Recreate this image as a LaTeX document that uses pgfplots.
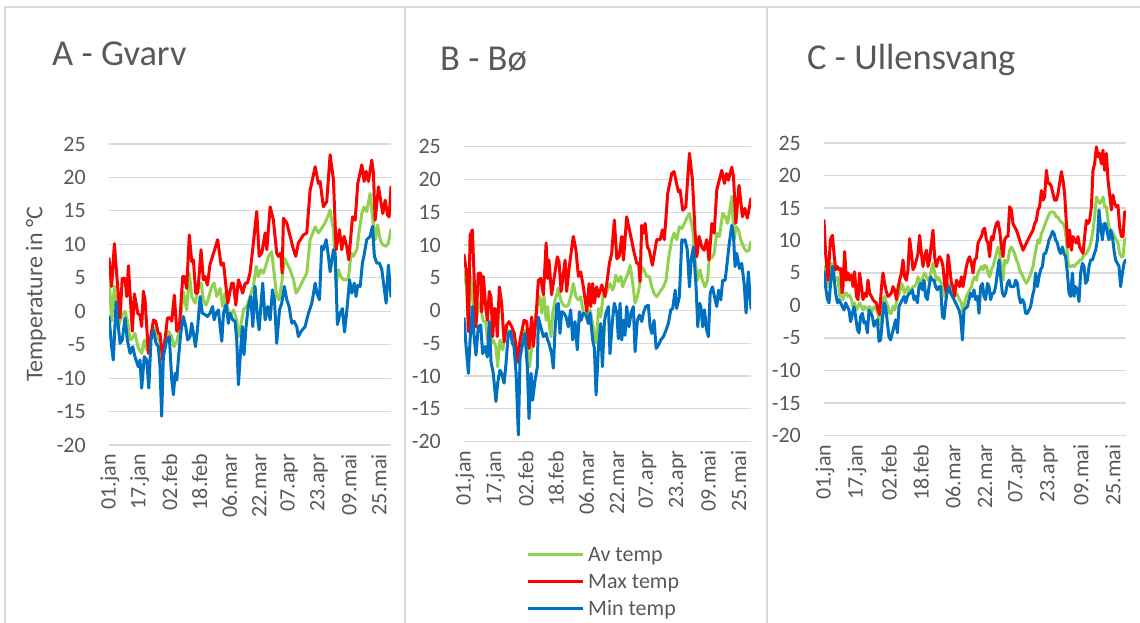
\documentclass[border=0pt]{standalone}
\usepackage{pgfplots}
\pgfplotsset{compat=1.18}
\usepackage{fontspec}
\setmainfont{Carlito}
\definecolor{avgc}{HTML}{92D050}
\definecolor{maxc}{HTML}{FF0000}
\definecolor{minc}{HTML}{0070C0}
\definecolor{gridc}{HTML}{D9D9D9}
\definecolor{txt}{HTML}{595959}
\pgfplotsset{
  panel/.style={
    scale only axis,
    xmin=0, xmax=151, ymin=-20, ymax=25,
    axis line style={draw=none},
    major tick length=0pt,
    tick style={draw=none},
    ytick={-20,-15,-10,-5,0,5,10,15,20,25},
    yticklabels={-20,-15,-10,-5,0,5,10,15,20,25},
    ymajorgrids,
    grid style={color=gridc, line width=1.2pt},
    xtick={0.5,16.5,32.5,48.5,64.5,80.5,96.5,112.5,128.5,144.5},
    xticklabels={01.jan,17.jan,02.feb,18.feb,06.mar,22.mar,07.apr,23.apr,09.mai,25.mai},
    xticklabel style={rotate=90, anchor=east, inner sep=0pt, xshift=-9pt, font=\fontsize{22}{22}\selectfont, text=txt},
    yticklabel style={anchor=east, inner sep=0pt, xshift=-23pt, font=\fontsize{22}{22}\selectfont, text=txt},
    every axis plot/.append style={line width=3pt, line join=round, line cap=round, no markers},
  }
}
\begin{document}
\begin{tikzpicture}
\path[use as bounding box] (0pt,0pt) rectangle (1140pt,623pt);
% panel frames
\draw[gridc, line width=1.5pt] (5pt,0pt) -- (5pt,616pt) -- (1140pt,616pt);
\draw[gridc, line width=1.5pt] (405pt,0pt) -- (405pt,616pt);
\draw[gridc, line width=1.5pt] (767pt,0pt) -- (767pt,616pt);
% titles
\node[anchor=base west, inner sep=0pt, text=txt, font=\fontsize{36.5}{40}\selectfont] at (52pt,557pt) {A - Gvarv};
\node[anchor=base west, inner sep=0pt, text=txt, font=\fontsize{36.5}{40}\selectfont] at (440pt,552pt) {B - Bø};
\node[anchor=base west, inner sep=0pt, text=txt, font=\fontsize{36.5}{40}\selectfont] at (807pt,553pt) {C - Ullensvang};

% ---------------- A ----------------
\begin{axis}[panel, at={(109pt,178pt)}, anchor=south west, width=282pt, height=301pt,
  ylabel={Temperature in °C},
  ylabel style={at={(axis description cs:-0.259,0.5)}, anchor=center, font=\fontsize{24}{24}\selectfont, text=txt}]
\addplot[avgc] coordinates {(0,5.4)(1.4,-1.5)(2.9,3.7)(5,-2.3)(6.8,-0.8)(8.6,0)(9.8,-1.3)(11.3,-4.3)(12.7,-4.0)(13.9,-3.3)(15.7,-5.5)(17.5,-6.3)(18.9,-4.3)(20.2,-5.8)(21.1,-5.5)(22.9,-2.8)(24.3,-2.5)(25.5,-3.3)(27.3,-4.8)(28.8,-6.8)(30,-4.3)(31.8,-3.0)(33.6,-3.8)(34.8,-5.3)(36.3,-4.5)(37.7,-2.8)(39.8,2.9)(41.6,0.2)(43,5.7)(44.3,2.2)(46.1,1.2)(47.9,3.7)(49.3,4.2)(50.5,1.7)(52,0.9)(53.2,1.9)(55,3.7)(56.3,4.2)(57.7,2.2)(59.5,3.4)(60.9,0.7)(62.1,2.7)(63.4,0.7)(64.8,-0.8)(66.6,0.2)(68.4,-1.3)(69.3,-3.8)(70.5,-2.3)(72,0.2)(73.8,0.7)(75.5,2.2)(77.3,3.7)(78.8,6.7)(80,5.2)(81.3,6.2)(82.7,5.7)(83.9,6.7)(85.4,8.2)(87.1,8.9)(88.6,5.2)(89.8,2.2)(91.1,1.7)(92.5,4.2)(93.9,7.9)(95.2,7.2)(97,6.2)(98.8,4.7)(100.2,2.7)(101.4,3.2)(104.1,4.7)(105.9,5.7)(107.7,10.7)(109.1,11.7)(110.4,12.6)(112.1,11.7)(113.9,12.4)(115.7,13.2)(117,14.1)(118.4,15.1)(120.2,12.2)(121.6,3.7)(122.9,6.2)(124.1,5.2)(125.5,4.7)(127,4.7)(128.2,4.9)(129.6,8.7)(130.9,8.2)(132.7,9.2)(134.1,12.2)(135.4,14.6)(136.6,15.6)(138,14.9)(139.8,17.6)(141.3,13.6)(142.5,10.7)(143.8,12.9)(145.2,10.7)(146.6,9.9)(148.4,9.7)(149.6,10.2)(151,12.2)};
\addplot[maxc] coordinates {(0,7.9)(1.4,3.7)(2.9,10.1)(5.9,-1.0)(7.1,4.9)(8.6,4.9)(9.5,2.2)(10.4,6.8)(12.5,-3.0)(13.6,2.6)(14.5,1.2)(15.4,-0.3)(16.6,-0.6)(17.5,-2.3)(18.4,3.0)(19.3,1.7)(21.1,-6.3)(23.8,-1.3)(25,-1.5)(26.4,-3.3)(27.3,-3.3)(28.8,-7.3)(30,-4.3)(31.3,-1.0)(32.7,-1.0)(33.6,-1.5)(35,2.4)(36.3,-3.0)(37.7,-2.3)(39.5,5.2)(40.4,5.2)(41.6,3.4)(43,11.4)(44.3,7.4)(45.2,7.7)(46.4,2.7)(47.5,2.7)(49.3,9.2)(50.5,4.7)(51.4,5.2)(52.7,3.9)(54.1,7.0)(56,8.7)(58.2,10.7)(60,6.9)(61.3,7.2)(63.6,1.2)(65.7,4.2)(66.6,4.2)(67.9,0.9)(69.3,4.7)(70.5,3.7)(71.6,2.7)(72.9,4.2)(74.1,4.2)(75.5,5.7)(77,9.4)(79.1,14.9)(80.4,8.2)(81.8,8.7)(83.6,11.7)(84.5,9.2)(86.3,15.6)(88,13.7)(89.8,8.7)(90.7,8.2)(92,8.7)(92.7,5.7)(93.4,13.9)(95.2,13.2)(96.1,12.2)(98.8,9.2)(100,8.2)(101.4,10.2)(104.1,11.4)(105.9,11.7)(107.7,18.1)(110.4,21.6)(112.1,19.1)(113,19.4)(114.8,15.6)(116.6,16.4)(118.4,23.4)(120.2,19.6)(121.6,9.2)(123.4,12.2)(124.6,9.2)(125.9,11.2)(127.3,9.7)(128.4,7.7)(130.4,14.1)(131.8,13.6)(133.2,19.1)(135.4,21.9)(136.6,19.4)(137.7,20.9)(138.9,19.4)(140.7,22.6)(141.6,20.6)(142.5,13.6)(144.3,18.6)(146.6,14.6)(147.9,16.6)(149.1,14.4)(150,14.1)(151,18.6)};
\addplot[minc] coordinates {(0,-0.8)(1.4,-5.3)(2.3,-7.3)(3.8,1.4)(5,-2.3)(5.9,-4.8)(7.1,-4.3)(8.6,-1.0)(9.8,-4.3)(11.3,-6.3)(12.7,-5.3)(13.9,-6.8)(15.7,-8.3)(16.6,-7.3)(17.5,-11.5)(18.9,-6.8)(20.2,-7.3)(21.3,-11.5)(22.5,-4.3)(23.8,-2.8)(25.2,-4.8)(26.4,-5.3)(27.3,-8.3)(28.2,-15.7)(29.1,-6.8)(30.9,-4.3)(32.3,-3.8)(33.6,-10.3)(34.5,-12.5)(35.4,-9.3)(36.3,-10.3)(37.1,-7.3)(38.4,-3.3)(39.8,-0.8)(41.1,-2.3)(42.1,-4.3)(43.4,-3.8)(44.3,-1.8)(45.2,-3.3)(46.3,-5.3)(47.5,-2.3)(48.8,2.2)(50,-0.3)(51.4,-0.5)(52.7,-0.8)(54.1,-0.3)(55.5,0.7)(56.3,-1.3)(57.3,-0.3)(58.6,0.2)(59.5,-2.3)(60.4,-4.5)(61.3,-0.3)(62.7,1.0)(63.9,-1.8)(64.8,-0.3)(66.3,-1.3)(67.5,-1.5)(68.4,-4.3)(69.3,-11.0)(70.5,-5.8)(71.4,-2.3)(72.3,-6.5)(73.4,-2.3)(74.6,0.7)(75.9,2.2)(77,-2.3)(78.2,3.7)(79.5,-0.8)(80.4,-2.8)(81.3,0.7)(82.3,4.2)(83.6,-1.3)(85,0.7)(86.3,-1.3)(87.5,3.2)(88.6,1.7)(89.8,-4.8)(91.3,0.2)(92.5,1.2)(93.9,3.7)(95.2,1.7)(96.4,0.7)(97.9,-1.8)(99.1,-1.5)(100.5,-2.3)(101.4,-3.8)(102.9,-3.0)(105,-2.3)(106.8,-0.3)(108.6,1.2)(110.4,4.2)(111.3,2.7)(112.7,1.7)(113.9,9.7)(114.8,9.2)(116.3,10.7)(117.5,8.2)(118.4,5.9)(120.2,9.2)(121.1,8.7)(122.3,-2.0)(123.8,-0.3)(125,0.4)(126.1,-3.1)(127.3,-0.1)(128.8,4.7)(130,2.7)(131.3,4.2)(132.3,2.2)(133.2,3.9)(134.5,3.7)(135.7,7.2)(136.6,8.4)(138,10.7)(139.8,11.2)(141.1,12.7)(142.1,8.2)(143.4,7.2)(144.8,7.2)(146.1,6.2)(147,4.2)(148.4,1.2)(149.6,6.9)(151,2.2)};
\end{axis}

% ---------------- B ----------------
\begin{axis}[panel, at={(464pt,181.5pt)}, anchor=south west, width=287pt, height=294.8pt]
\addplot[avgc] coordinates {(0,5.9)(1.4,3.6)(2.3,-3.0)(3.5,5.2)(4.6,2.1)(5.8,-2.5)(6.7,-1.0)(8.1,1.1)(9.3,-0.4)(10.2,-1.7)(11.4,-1.7)(12.3,-4.5)(13.3,-3.5)(14.6,-5.0)(15.4,-4.5)(16.8,-5.5)(17.7,-8.6)(18.9,-4.5)(20.4,-6.0)(21.6,-3.5)(22.8,-3.0)(24.2,-3.2)(25.4,-4.0)(26.5,-4.5)(27.7,-6.8)(28.6,-8.1)(29.8,-5.0)(30.9,-3.5)(32.1,-3.0)(33.3,-5.5)(34.4,-8.6)(35.6,-5.8)(36.8,-2.5)(37.9,-0.4)(39.1,1.6)(40,2.1)(40.9,-0.4)(42.1,2.1)(43.2,-1.5)(44,0.6)(44.9,-2.5)(45.8,-4.0)(46.7,-0.4)(47.9,1.6)(48.8,2.4)(49.6,3.4)(50.9,1.6)(52.3,0.8)(53.7,0.6)(54.9,0.8)(56.1,2.1)(57.5,4.1)(58.9,2.1)(60.2,1.6)(61.4,2.1)(62.8,-0.4)(64.6,-1.0)(66.3,0.1)(67.7,-2.0)(68.9,-4.0)(69.8,-5.0)(70.7,0.3)(71.9,-1.0)(73.3,2.6)(74.7,2.6)(76,3.6)(76.8,4.1)(78.1,3.1)(78.9,3.6)(79.8,5.4)(81.2,4.4)(82.5,5.2)(83.5,3.6)(84.7,4.6)(86,5.4)(87.4,6.9)(88.8,4.1)(90,1.1)(91.2,2.1)(92.3,3.6)(93.5,6.7)(94.7,6.2)(96.1,5.2)(97.5,5.2)(98.8,3.6)(100,2.6)(101.4,2.1)(103.2,2.9)(104.9,3.6)(106.3,4.6)(107.5,7.7)(109.3,10.8)(110.5,11.8)(111.9,10.8)(113.3,12.8)(114.6,12.5)(116,13.3)(117.2,14.1)(118.6,14.8)(120.4,12.3)(121.6,7.7)(122.8,4.6)(124.2,6.2)(125.4,4.6)(126.8,3.6)(128.1,4.6)(129.1,8.2)(130.4,8.0)(131.6,8.7)(133,11.8)(134.4,11.3)(136.1,14.8)(137.5,14.3)(138.6,13.3)(139.6,14.8)(140.9,17.4)(142.1,10.8)(143.2,12.8)(144.4,12.3)(145.6,10.8)(147.4,9.5)(148.8,9.0)(150,9.2)(151,10.5)};
\addplot[maxc] coordinates {(0,8.5)(1.4,5.7)(2.3,-3.2)(3.2,11.5)(4.4,12.3)(6.3,-2.5)(7.5,5.7)(8.8,5.7)(9.3,-0.2)(10.2,5.2)(11.4,0.6)(12.3,-1.5)(13.3,2.9)(14.2,2.1)(15.1,-4.0)(16,0.3)(16.8,0.1)(17.5,-4.0)(18.6,3.6)(19.8,1.1)(21.1,-4.8)(22.5,-2.2)(23.7,-1.7)(25.1,-2.5)(26.5,-3.5)(28.2,-7.8)(29.5,-4.5)(31.6,-1.5)(33,-1.7)(34.2,-5.8)(35.6,-1.0)(36.5,-5.5)(37.9,-1.0)(39.1,4.6)(40.4,4.9)(41.8,2.4)(43.2,10.3)(44,4.9)(44.7,7.7)(46.1,2.4)(49.1,8.2)(50,7.4)(51.1,2.9)(53.2,7.7)(54,2.9)(55.4,6.7)(57.5,11.3)(58.9,9.2)(60.2,5.2)(61.4,5.9)(62.8,3.6)(64.6,-0.2)(65.8,4.1)(66.7,0.6)(67.7,4.1)(68.6,1.1)(69.8,3.6)(70.7,2.1)(72.5,3.9)(74.2,2.1)(76.5,7.2)(77.7,8.7)(79.1,13.8)(80.4,7.9)(81.6,8.2)(83,11.3)(83.9,7.7)(85.6,14.3)(87.4,11.8)(89.6,8.7)(90.9,7.2)(91.9,7.2)(92.6,4.4)(93.5,13.0)(94.4,11.8)(95.3,13.3)(96.5,9.7)(97.5,9.2)(99.1,6.9)(101.4,10.8)(103.2,10.8)(104.4,12.3)(105.4,10.8)(107.2,17.9)(109.3,20.9)(110.5,21.2)(112.8,18.1)(113.7,18.4)(115.1,15.3)(116.7,15.8)(118.6,24.0)(120.2,19.9)(121.6,11.8)(122.5,8.2)(123.7,11.3)(125.1,9.7)(126.3,9.2)(127.7,10.8)(128.9,7.7)(130.4,13.3)(131.6,11.8)(133,18.4)(135.6,21.4)(137,19.4)(138.2,20.9)(139.1,19.9)(140.9,21.9)(141.8,20.4)(143,13.3)(144.7,19.1)(146.5,14.3)(147.7,15.6)(149.1,14.1)(151,17.1)};
\addplot[minc] coordinates {(0,-1.2)(1.1,-5.5)(2.3,-9.6)(3.2,-4.5)(4.4,0.6)(5.3,-4.0)(6.3,-6.8)(7.5,-2.5)(8.8,-2.2)(9.8,-6.6)(11.1,-5.5)(12.3,-7.1)(13.3,-1.7)(14.2,-7.8)(15.4,-9.6)(16.8,-13.9)(17.7,-11.1)(18.9,-9.1)(19.8,-9.6)(21.1,-11.1)(22.1,-8.1)(23.3,-3.5)(24.6,-3.2)(25.4,-5.0)(26.3,-5.5)(27.4,-9.6)(28.6,-19.0)(29.5,-7.1)(30.9,-5.0)(32.1,-3.5)(33.3,-8.6)(34.2,-16.5)(35.3,-9.6)(36.1,-13.7)(37.4,-10.6)(38.6,-8.6)(39.1,-1.0)(40.4,-2.5)(41.8,-4.0)(43.2,-3.5)(44,-4.5)(44.7,-5.0)(46.1,-6.6)(47,-8.8)(47.9,-3.0)(48.8,0.8)(49.6,1.1)(50.5,-3.5)(51.4,-0.2)(52.6,-0.4)(53.7,-1.0)(54.9,-2.5)(56.1,0.1)(57.2,-4.5)(58.4,-1.7)(59.6,-6.0)(60.7,-0.2)(61.6,-1.5)(62.8,-0.4)(64.2,-0.7)(65.4,-2.0)(66.3,-0.4)(67.7,-4.5)(68.6,-5.8)(69.5,-12.9)(70.7,-5.8)(71.9,-2.0)(72.8,-8.6)(73.9,-1.7)(74.7,-0.4)(76,0.6)(76.8,-6.6)(78.1,-1.5)(79.1,1.1)(80.4,-0.4)(81.2,-4.3)(82.1,1.1)(83,-4.5)(83.9,-1.5)(84.7,-3.8)(85.6,0.6)(86.8,-2.5)(87.9,-0.4)(89.1,0.6)(90,-6.3)(91.2,-1.5)(92.3,-0.7)(93.5,-1.7)(94.4,-0.4)(95.6,0.6)(97,0.8)(97.9,-2.5)(98.8,-3.5)(100,-1.5)(101.1,-5.8)(102.3,-5.3)(103.5,-4.5)(104.9,-4.0)(106.3,-3.0)(107.5,-2.0)(108.8,0.1)(109.8,0.3)(111.1,3.1)(111.9,0.3)(113.3,2.1)(114.6,10.8)(115.4,10.5)(116.3,10.8)(117.5,9.2)(118.6,3.6)(119.5,7.7)(120.7,9.7)(122.1,3.6)(123,-2.5)(123.9,1.1)(124.6,0.6)(125.6,-2.5)(126.5,0.1)(127.7,-3.0)(128.6,-4.0)(129.5,2.6)(130.7,3.6)(131.8,2.1)(133,0.6)(133.9,3.1)(135.1,1.6)(136.1,4.6)(137.4,4.6)(138.6,7.7)(139.6,10.3)(140.9,13.0)(141.8,11.3)(142.6,6.7)(143.5,8.7)(144.9,6.4)(146.1,7.2)(147.4,4.1)(148.4,-0.4)(149.6,5.9)(151,0.3)};
\end{axis}

% ---------------- C ----------------
\begin{axis}[panel, at={(824pt,187.5pt)}, anchor=south west, width=302pt, height=292.5pt]
\addplot[avgc] coordinates {(0,6.0)(0.8,3.9)(2,2.9)(2.8,5.0)(3.7,6.5)(4.5,6.0)(5.3,3.9)(6.2,3.9)(7,4.4)(7.8,1.4)(8.7,1.4)(9.5,0.9)(10.3,1.9)(11.2,1.9)(12,1.4)(12.8,1.6)(13.7,0.9)(14.5,-0.2)(15.3,0.4)(16.2,-0.7)(17,-0.2)(17.8,0.4)(18.7,-0.2)(19.5,-0.7)(20.3,-0.2)(21.2,-0.4)(22,-0.7)(22.8,-0.2)(23.7,-1.2)(24.5,-0.4)(25.3,-0.2)(26.2,-0.7)(27,-1.2)(27.8,-3.0)(28.7,-1.2)(29.5,0.9)(30.3,1.4)(31.2,0.4)(32,-0.2)(32.8,-1.2)(33.7,-1.2)(34.5,-0.2)(35.3,-0.7)(36.2,0.4)(37,1.4)(37.8,1.9)(38.7,3.4)(39.5,2.9)(40.3,1.9)(41.2,2.4)(42,2.9)(42.8,1.9)(43.7,2.4)(44.5,2.9)(45.3,2.9)(46.2,3.4)(47,4.4)(47.8,3.4)(48.7,3.9)(49.5,4.4)(50.3,5.0)(51.2,4.4)(52,3.9)(52.8,4.2)(53.7,5.5)(54.5,6.5)(55.3,5.0)(56.2,3.9)(57,4.4)(57.8,3.9)(58.7,3.4)(59.5,2.9)(60.3,1.4)(61.2,1.6)(62,3.4)(62.8,2.9)(63.7,2.4)(64.5,1.9)(66.2,1.9)(67,1.4)(67.8,0.9)(68.7,0.4)(69.5,-1.2)(70.3,0.4)(71.2,1.4)(72,1.9)(72.8,2.4)(73.7,2.9)(74.5,3.9)(75.3,4.4)(76.2,3.9)(77,5.0)(77.8,5.5)(78.7,6.0)(79.5,5.5)(80.3,6.2)(81.2,6.0)(82,5.0)(82.8,4.4)(83.7,5.5)(84.5,6.0)(85.3,7.0)(86.2,8.0)(87,9.0)(87.8,8.0)(88.7,5.5)(89.5,3.9)(90.3,7.0)(91.2,6.5)(92,7.0)(92.8,8.5)(93.7,9.0)(94.5,8.5)(95.3,8.0)(96.2,7.0)(97,6.5)(97.8,5.5)(99.5,4.4)(100.3,3.9)(101.2,3.4)(102.8,4.4)(104.5,6.0)(105.3,7.5)(106.2,9.0)(107,10.1)(107.8,9.6)(108.7,11.1)(109.5,11.6)(111.2,13.1)(112.8,14.2)(113.7,14.4)(114.5,14.4)(115.3,14.2)(116.2,13.6)(117,13.6)(117.8,13.1)(119.5,12.6)(120.3,12.1)(121.2,10.1)(122,6.5)(122.8,6.0)(123.7,6.0)(124.5,6.2)(125.3,6.0)(126.2,6.5)(127,6.5)(127.8,7.0)(128.7,7.0)(129.5,7.5)(130.3,7.8)(131.2,8.0)(132,8.5)(132.8,9.0)(133.7,10.1)(134.5,11.6)(135.3,13.6)(136.2,16.7)(137,16.2)(137.8,15.7)(138.7,16.0)(139.5,16.7)(140.3,15.2)(141.2,15.2)(142,13.1)(142.8,11.6)(143.7,11.6)(144.5,11.1)(145.3,10.6)(146.2,10.1)(147,9.6)(147.8,8.0)(148.7,7.5)(149.5,7.5)(150.3,10.1)(150.8,10.3)};
\addplot[maxc] coordinates {(0,13.1)(0.8,8.0)(2,3.9)(3.2,10.1)(4.2,10.8)(5,8.0)(5.8,5.5)(6.7,6.0)(7.5,5.5)(8.3,5.7)(9,1.9)(9.5,2.9)(10.3,8.3)(11.2,3.9)(12,5.0)(12.8,3.9)(13.7,4.7)(14.5,2.9)(15.3,5.2)(16.2,1.4)(17,0.9)(17.8,5.0)(18.7,2.9)(19.5,0.9)(20.3,1.9)(21.2,1.4)(22,3.9)(22.8,1.9)(23.7,1.4)(24.5,0.9)(25.3,0.6)(26.2,0.4)(27,-0.7)(27.8,-1.4)(28.7,2.7)(29.5,5.0)(30.3,3.4)(31.2,2.1)(32,1.4)(32.8,1.6)(33.7,1.9)(34.5,2.9)(35.3,2.4)(36.2,0.9)(37,2.7)(37.8,3.9)(38.7,5.0)(39.5,7.0)(40.3,4.4)(41.2,3.9)(42,5.5)(42.8,10.3)(43.7,8.0)(44.5,5.5)(45.3,6.0)(46.2,7.0)(47,8.0)(47.8,10.8)(48.7,8.0)(49.5,6.0)(50.3,7.5)(51.2,8.5)(52,6.0)(52.8,7.0)(53.7,9.6)(54.5,11.6)(55.3,7.5)(56.2,6.0)(57,7.0)(57.8,7.5)(58.7,7.0)(59.5,6.0)(60.3,3.4)(61.2,1.9)(62,7.8)(62.8,6.0)(63.7,3.4)(64.5,2.9)(65.3,1.4)(66.2,3.9)(67,3.4)(67.8,2.9)(68.7,4.4)(69.5,2.9)(70.3,4.4)(71.2,6.0)(72,7.0)(72.8,7.5)(73.7,6.5)(74.5,5.0)(75.3,7.0)(76.2,7.3)(77,9.6)(77.8,10.1)(78.7,10.6)(79.5,11.6)(80.3,11.9)(81.2,10.1)(82,9.6)(82.8,7.5)(83.7,10.6)(84.5,10.1)(85.3,11.6)(86.2,12.6)(87,12.9)(87.8,11.6)(88.7,9.0)(89.5,7.5)(90.3,10.1)(91.2,10.6)(92,10.6)(92.8,15.2)(93.7,14.7)(94.5,12.6)(95.3,12.1)(96.2,11.6)(97.8,10.1)(99.5,8.5)(101.2,9.6)(102.8,10.6)(104.5,11.6)(105.3,12.6)(106.2,13.1)(107,14.7)(107.8,15.2)(108.7,17.7)(109.5,16.2)(110.3,16.7)(111.2,20.8)(112,18.8)(112.8,18.8)(113.7,18.3)(114.5,17.2)(115.3,16.2)(116.2,16.2)(117,17.2)(117.8,18.8)(118.7,20.6)(119.5,19.3)(120.3,17.2)(121.2,12.6)(122,9.0)(122.8,11.6)(123.7,8.5)(124.5,10.6)(125.3,10.1)(126.2,9.6)(127,10.6)(127.8,9.0)(128.7,8.5)(129.5,8.0)(130.3,10.6)(131.2,13.1)(132,12.6)(132.8,13.1)(133.7,15.2)(134.5,20.8)(135.3,21.8)(136.2,24.4)(137,22.9)(137.8,23.4)(138.7,21.8)(139.5,23.9)(140.3,20.8)(141.2,23.4)(142,19.3)(142.8,17.2)(143.7,14.7)(144.5,17.0)(145.3,15.7)(146.2,15.2)(147,15.4)(147.8,12.1)(148.7,10.6)(149.5,10.6)(150.3,14.4)(150.8,14.4)};
\addplot[minc] coordinates {(0,5.2)(0.8,2.9)(1.7,0.9)(2.5,0.4)(3.3,3.4)(4.2,6.0)(5,4.4)(5.8,1.9)(6.7,0.4)(7.5,0.9)(8.3,0.4)(9.2,-0.2)(10,-0.7)(10.8,0.4)(11.7,-0.2)(12.5,-0.7)(13.3,-2.5)(14.2,-1.2)(15,-0.2)(15.8,-1.7)(16.7,-3.7)(17.5,-4.2)(18.3,-1.7)(19.2,-1.2)(20,-2.7)(20.8,-2.5)(21.7,-4.2)(22.5,-0.7)(23.3,-1.2)(24.2,-1.7)(25,-3.2)(25.8,-2.5)(26.7,-2.2)(27.5,-5.5)(28.3,-5.3)(29.2,-2.2)(30,0.4)(30.8,-0.2)(31.7,-2.7)(32.5,-4.8)(33.3,-5.3)(34.2,-4.2)(35,-3.2)(35.8,-2.2)(36.7,-4.2)(37.5,-0.2)(38.3,0.4)(39.2,0.9)(40,1.4)(40.8,0.4)(41.7,1.4)(42.5,1.9)(43.3,1.9)(44.2,2.4)(45,0.9)(45.8,1.4)(46.7,0.4)(47.5,2.9)(48.3,3.4)(49.2,2.4)(50,3.9)(50.8,1.4)(51.7,0.9)(52.5,2.9)(53.3,4.4)(54.2,3.9)(55,3.9)(55.8,2.9)(56.7,2.4)(57.5,2.9)(58.3,2.9)(59.2,-1.7)(60,-2.0)(60.8,0.4)(61.7,2.4)(62.5,2.9)(63.3,1.9)(64.2,1.4)(65,0.9)(65.8,0.4)(66.7,-0.2)(67.5,-0.7)(68.3,-1.7)(69.2,-5.3)(70,-0.7)(70.8,-0.4)(71.7,-0.2)(72.5,0.9)(73.3,1.9)(74.2,1.4)(75,2.4)(75.8,0.9)(76.7,1.4)(77.5,-1.2)(78.3,2.9)(79.2,3.4)(80,1.4)(80.8,0.9)(81.7,3.4)(82.5,2.9)(83.3,0.9)(84.2,1.9)(85,1.9)(85.8,2.9)(86.7,5.0)(87.5,7.0)(88.3,4.4)(89.2,1.9)(90,1.4)(90.8,1.9)(91.7,3.4)(92.5,3.9)(93.3,2.9)(94.2,2.9)(95,2.9)(95.8,3.9)(96.7,3.4)(97.5,1.4)(98.3,0.4)(99.2,0.9)(100,0.4)(100.8,-1.2)(101.7,-1.2)(102.5,-0.7)(103.3,-0.2)(104.2,1.4)(105,2.4)(105.8,5.0)(106.7,2.9)(107.5,4.4)(108.3,5.5)(109.2,6.0)(110,8.0)(110.8,8.0)(111.7,9.0)(112.5,10.1)(113.3,10.6)(114.2,11.4)(115,11.1)(115.8,10.1)(116.7,9.6)(117.5,8.5)(118.3,8.0)(119.2,9.0)(120,8.0)(120.8,7.5)(121.7,5.0)(122.5,1.9)(123.3,1.4)(124.2,5.0)(125,1.4)(125.8,2.9)(126.7,2.4)(127.5,0.6)(128.3,5.0)(129.2,6.5)(130,6.0)(130.8,3.4)(131.7,3.9)(132.5,6.0)(133.3,7.0)(134.2,7.0)(135,7.8)(135.8,8.5)(136.7,10.1)(137.5,14.7)(138.3,12.1)(139.2,10.1)(140,12.6)(140.8,12.6)(141.7,11.1)(142.5,10.1)(143.3,11.6)(144.2,10.6)(145,8.5)(145.8,7.0)(146.7,6.5)(147.5,6.0)(148.3,2.9)(149.2,5.0)(150,6.5)(150.8,7.0)};
\end{axis}

% legend
\draw[avgc, line width=3pt] (528pt,68pt) -- (583pt,68pt);
\draw[maxc, line width=3pt] (528pt,41pt) -- (583pt,41pt);
\draw[minc, line width=3pt] (528pt,14pt) -- (583pt,14pt);
\node[anchor=base west, inner sep=0pt, text=txt, font=\fontsize{22}{22}\selectfont] at (588pt,61pt) {Av temp};
\node[anchor=base west, inner sep=0pt, text=txt, font=\fontsize{22}{22}\selectfont] at (588pt,34pt) {Max temp};
\node[anchor=base west, inner sep=0pt, text=txt, font=\fontsize{22}{22}\selectfont] at (588pt,7pt) {Min temp};
\end{tikzpicture}
\end{document}
